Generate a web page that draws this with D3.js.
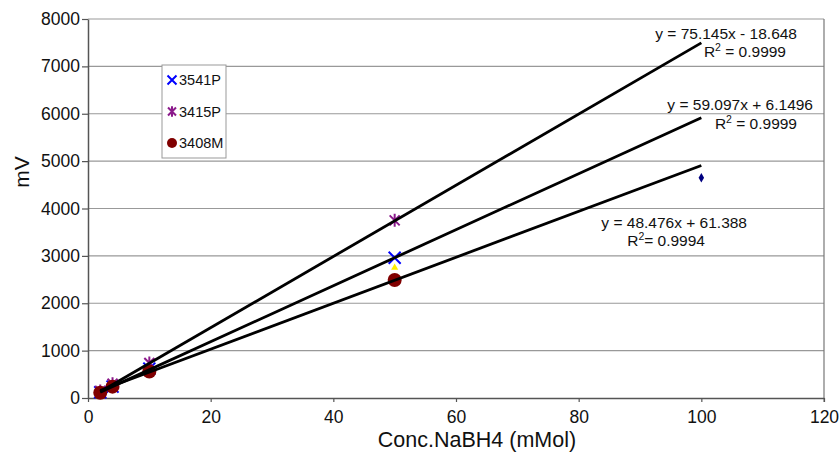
<!DOCTYPE html>
<html>
<head>
<meta charset="utf-8">
<script src="https://cdn.jsdelivr.net/npm/d3@7"></script>
<style>
  body { margin: 0; background: #fff; }
  svg text { font-family: "Liberation Sans", Arial, Helvetica, sans-serif; fill: #111; }
</style>
</head>
<body>
<script>
// data
const concs = [2, 4, 10, 50];
const s3541P = [120, 240, 620, 2960];
const s3415P = [150, 300, 740, 3750];
const s3408M = [110, 240, 560, 2490];
const extraTriangle = [[50, 2750]];
const extraDiamond = [[100, 4650]];

// trendlines from the printed equations
const trendSlopes = [75.145, 59.097, 48.476];
const trendIntercepts = [-18.648, 6.1496, 61.388];
const trendRange = [2, 100];
const eqLabels = ['y = 75.145x - 18.648', 'y = 59.097x + 6.1496', 'y = 48.476x + 61.388'];
const r2Labels = [' = 0.9999', ' = 0.9999', '= 0.9994'];

const xTicks = [0, 20, 40, 60, 80, 100, 120];
const yTicks = [0, 1000, 2000, 3000, 4000, 5000, 6000, 7000, 8000];
const legendNames = ['3541P', '3415P', '3408M'];

const w = 839;
const h = 459;
const margin = {left: 88, right: 15, top: 19, bottom: 61};

const xScale = d3.scaleLinear().domain([0, 120]).range([margin.left, w - margin.right]);
const yScale = d3.scaleLinear().domain([0, 8000]).range([h - margin.bottom, margin.top]);

const svg = d3.select('body').append('svg').attr('width', w).attr('height', h);

// gridlines
svg.append('g').selectAll('line')
   .data(yTicks.slice(1))
   .enter().append('line')
   .attr('x1', xScale(0)).attr('x2', xScale(120))
   .attr('y1', d => yScale(d)).attr('y2', d => yScale(d))
   .attr('stroke', '#999').attr('stroke-width', 1.2);

// right border
svg.append('line')
   .attr('x1', xScale(120)).attr('x2', xScale(120))
   .attr('y1', yScale(0) + 4).attr('y2', yScale(8000))
   .attr('stroke', '#777').attr('stroke-width', 1.2);

const xAxis = d3.axisBottom(xScale).tickValues(xTicks).tickFormat(d3.format('d'))
                .tickSizeInner(4).tickSizeOuter(0).tickPadding(9);
const yAxis = d3.axisLeft(yScale).tickValues(yTicks).tickFormat(d3.format('d'))
                .tickSizeInner(6).tickSizeOuter(0).tickPadding(2);

const gx = svg.append('g')
   .attr('transform', 'translate(0,' + yScale(0) + ')')
   .call(xAxis);
const gy = svg.append('g')
   .attr('transform', 'translate(' + xScale(0) + ',0)')
   .call(yAxis);

[gx, gy].forEach(g => {
  g.select('.domain').attr('stroke', '#555').attr('stroke-width', 1.5);
  g.selectAll('.tick line').attr('stroke', '#555').attr('stroke-width', 1.2);
  g.selectAll('.tick text').attr('font-size', 17.5).attr('fill', '#111')
   .style('font-family', '"Liberation Sans", Arial, sans-serif');
});

svg.append('text')
   .text('mV')
   .attr('font-size', 21)
   .attr('text-anchor', 'middle')
   .attr('transform', 'translate(29,172)rotate(-90)');

svg.append('text')
   .text('Conc.NaBH4 (mMol)')
   .attr('font-size', 21.5)
   .attr('text-anchor', 'middle')
   .attr('x', 477)
   .attr('y', 447);

// markers
const xPath = (s) => `M${-s},${-s}L${s},${s}M${-s},${s}L${s},${-s}`;
const starPath = (s) => `M${-s},${-s}L${s},${s}M${-s},${s}L${s},${-s}M0,${-s * 1.3}L0,${s * 1.3}`;

svg.append('g').selectAll('path')
   .data(concs.map((c, i) => [c, s3541P[i]]))
   .enter().append('path')
   .attr('transform', d => 'translate(' + xScale(d[0]) + ',' + yScale(d[1]) + ')')
   .attr('d', xPath(6))
   .attr('stroke', '#0000ff').attr('stroke-width', 2).attr('fill', 'none');

svg.append('g').selectAll('path')
   .data(concs.map((c, i) => [c, s3415P[i]]))
   .enter().append('path')
   .attr('transform', d => 'translate(' + xScale(d[0]) + ',' + yScale(d[1]) + ')')
   .attr('d', starPath(5))
   .attr('stroke', '#8b1a8b').attr('stroke-width', 2).attr('fill', 'none');

svg.append('g').selectAll('path')
   .data(extraTriangle)
   .enter().append('path')
   .attr('transform', d => 'translate(' + xScale(d[0]) + ',' + yScale(d[1]) + ')')
   .attr('d', d3.symbol(d3.symbolTriangle, 22)())
   .attr('fill', '#ffee00');

svg.append('g').selectAll('path')
   .data(extraDiamond)
   .enter().append('path')
   .attr('transform', d => 'translate(' + xScale(d[0]) + ',' + yScale(d[1]) + ')')
   .attr('d', d3.symbol(d3.symbolDiamond, 26)())
   .attr('fill', '#000080');

svg.append('g').selectAll('circle')
   .data(concs.map((c, i) => [c, s3408M[i]]))
   .enter().append('circle')
   .attr('cx', d => xScale(d[0]))
   .attr('cy', d => yScale(d[1]))
   .attr('r', 7)
   .attr('fill', '#800000');

// trendlines
svg.append('g').selectAll('line')
   .data(trendSlopes.map((m, i) => [m, trendIntercepts[i]]))
   .enter().append('line')
   .attr('x1', xScale(trendRange[0])).attr('x2', xScale(trendRange[1]))
   .attr('y1', d => yScale(d[0] * trendRange[0] + d[1]))
   .attr('y2', d => yScale(d[0] * trendRange[1] + d[1]))
   .attr('stroke', '#000').attr('stroke-width', 2.8);

// equation labels
const eqPos = [[797, 39, 786, 57], [813, 110, 797, 129], [747, 228, 705, 246]];
eqLabels.forEach((t, i) => {
  svg.append('text').text(t)
     .attr('font-size', 15.5).attr('text-anchor', 'end')
     .attr('x', eqPos[i][0]).attr('y', eqPos[i][1]);
  const r = svg.append('text')
     .attr('font-size', 15.5).attr('text-anchor', 'end')
     .attr('x', eqPos[i][2]).attr('y', eqPos[i][3]);
  r.append('tspan').text('R');
  r.append('tspan').text('2').attr('font-size', 10.5).attr('dy', -6);
  r.append('tspan').text(r2Labels[i]).attr('dy', 6);
});

// legend
const lg = svg.append('g').attr('transform', 'translate(162,65)');
lg.append('rect')
  .attr('width', 64).attr('height', 93)
  .attr('fill', '#fff').attr('stroke', '#999');
legendNames.forEach((n, i) => {
  const y = 15 + i * 31.5;
  const g = lg.append('g').attr('transform', 'translate(10,' + y + ')');
  if (i === 0) g.append('path').attr('d', xPath(4.5)).attr('stroke', '#0000ff').attr('stroke-width', 2).attr('fill', 'none');
  if (i === 1) g.append('path').attr('d', starPath(4)).attr('stroke', '#8b1a8b').attr('stroke-width', 2).attr('fill', 'none');
  if (i === 2) g.append('circle').attr('r', 5).attr('fill', '#800000');
  g.append('text').text(n).attr('x', 7).attr('y', 5).attr('font-size', 14.5);
});
</script>
</body>
</html>
